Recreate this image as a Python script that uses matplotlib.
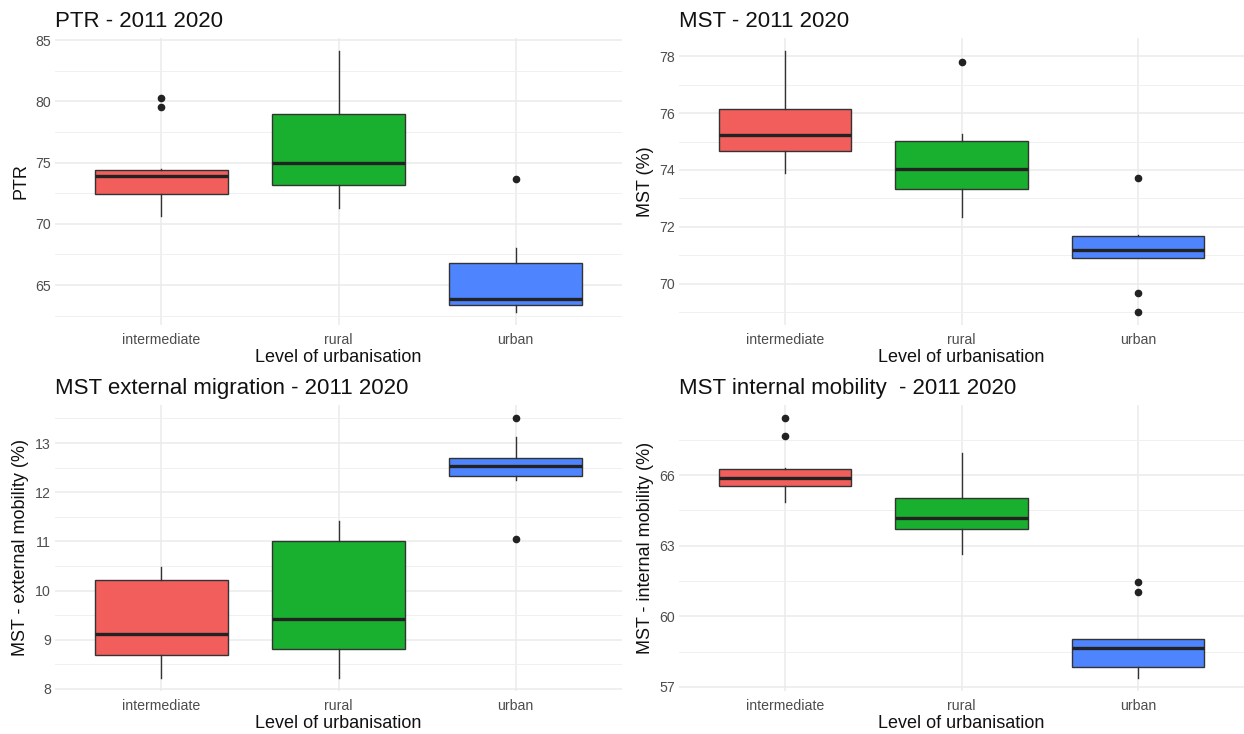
import matplotlib.pyplot as plt
import numpy as np

plt.rcParams['font.family'] = ['Liberation Sans', 'DejaVu Sans']

# Categories and colours
groups = ['intermediate', 'rural', 'urban']
fills = ['#F15E5B', '#19B02F', '#4E85FF']

# Box statistics: whislo, q1, med, q3, whishi, fliers
ptr_stats = [
    (70.6, 72.4, 73.9, 74.4, 74.5, [80.3, 79.5]),
    (71.3, 73.2, 75.0, 78.95, 84.1, []),
    (62.8, 63.4, 63.85, 66.8, 68.0, [73.65]),
]
mst_stats = [
    (73.9, 74.67, 75.22, 76.15, 78.18, []),
    (72.36, 73.34, 74.03, 75.01, 75.28, [77.8]),
    (70.9, 70.92, 71.19, 71.69, 71.72, [73.71, 69.69, 69.01]),
]
ext_stats = [
    (8.22, 8.68, 9.12, 10.22, 10.48, []),
    (8.22, 8.82, 9.42, 11.0, 11.42, []),
    (12.25, 12.34, 12.53, 12.7, 13.12, [13.51, 11.05]),
]
int_stats = [
    (64.84, 65.55, 65.89, 66.27, 66.31, [68.43, 67.68]),
    (62.64, 63.73, 64.19, 65.01, 66.95, []),
    (57.38, 57.85, 58.65, 59.03, 59.03, [61.48, 61.04]),
]

panels = [
    ('PTR - 2011 2020', 'PTR', ptr_stats, [65, 70, 75, 80, 85]),
    ('MST - 2011 2020', 'MST (%)', mst_stats, [70, 72, 74, 76, 78]),
    ('MST external migration - 2011 2020', 'MST - external mobility (%)', ext_stats,
     [8, 9, 10, 11, 12, 13]),
    ('MST internal mobility  - 2011 2020', 'MST - internal mobility (%)', int_stats,
     [57, 60, 63, 66]),
]

fig = plt.figure(figsize=(12.44, 7.34), dpi=100)
W, H = 1244, 734
boxes_px = [(55, 38, 567, 287), (679, 38, 565, 287),
            (55, 405, 567, 286), (679, 405, 565, 286)]

for (title, ylab, stats, ticks), (l, t, w, h) in zip(panels, boxes_px):
    ax = fig.add_axes([l / W, 1 - (t + h) / H, w / W, h / H])
    bxp_stats = []
    for g, (lo, q1, med, q3, hi, fl) in zip(groups, stats):
        bxp_stats.append(dict(label=g, whislo=lo, q1=q1, med=med, q3=q3,
                              whishi=hi, fliers=fl))
    parts = ax.bxp(bxp_stats, positions=[1, 2, 3], widths=0.75, patch_artist=True,
                   showcaps=False,
                   boxprops=dict(edgecolor='#333333', linewidth=1.0),
                   whiskerprops=dict(color='#333333', linewidth=1.0),
                   medianprops=dict(color='#222222', linewidth=2.4),
                   flierprops=dict(marker='o', markersize=4.5, markerfacecolor='#222222',
                                   markeredgecolor='#222222'))
    for patch, c in zip(parts['boxes'], fills):
        patch.set_facecolor(c)
    for art in parts['boxes'] + parts['whiskers'] + parts['medians'] + parts['fliers']:
        art.set_zorder(3)

    ax.set_yticks(ticks)
    step = ticks[1] - ticks[0]
    minors = np.arange(ticks[0] - step / 2, ticks[-1] + step, step)
    ax.set_yticks(minors, minor=True)
    ax.set_xticks([1, 2, 3])
    ax.set_xticklabels(groups)

    # ggplot-like expansion (after the ticks, which would widen the view)
    vals = [v for s in stats for v in s[:5]] + [v for s in stats for v in s[5]]
    lo, hi = min(vals), max(vals)
    pad = (hi - lo) * 0.05
    ax.set_ylim(lo - pad, hi + pad)
    ax.set_xlim(0.4, 3.6)

    ax.grid(True, which='major', color='#EBEBEB', linewidth=1.1, zorder=0)
    ax.grid(True, which='minor', axis='y', color='#F0F0F0', linewidth=0.7, zorder=0)
    ax.set_axisbelow(True)
    for s in ax.spines.values():
        s.set_visible(False)
    ax.tick_params(which='both', length=0, labelsize=10.2, labelcolor='#4D4D4D', pad=3)
    ax.tick_params(axis='x', pad=6)

    ax.set_title(title, loc='left', fontsize=16, pad=8, color='#111111')
    ax.set_ylabel(ylab, fontsize=13, labelpad=4, color='#111111')
    ax.set_xlabel('Level of urbanisation', fontsize=13, labelpad=1, color='#111111')

fig.savefig('out.png', dpi=100, facecolor='white')
